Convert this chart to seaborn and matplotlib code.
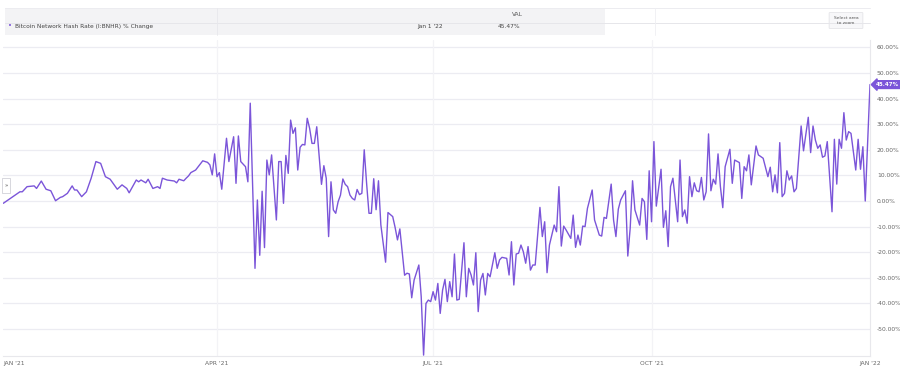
import numpy as np
import pandas as pd
import matplotlib
matplotlib.use("Agg")
import matplotlib.pyplot as plt
import matplotlib.dates as mdates
from matplotlib.patches import Rectangle, FancyBboxPatch
from matplotlib.lines import Line2D
import seaborn as sns

# ---------------- data ----------------
series_name = "Bitcoin Network Hash Rate (I:BNHR) % Change"
start_date = "2021-01-01"
day_offset = [
    0, 4, 7, 8, 10, 13, 14, 16, 18, 20, 22, 24, 25, 27, 29, 30, 31, 33, 35, 37,
    39, 41, 43, 45, 48, 50, 52, 53, 56, 57, 58, 60, 61, 63, 65, 66, 67, 69, 72, 73,
    74, 76, 77, 78, 79, 81, 84, 86, 87, 88, 89, 90, 91, 92, 94, 95, 97, 98, 99, 100,
    102, 103, 104, 106, 107, 108, 109, 110, 111, 112, 113, 115, 116, 117, 118, 119, 120, 121, 122, 123,
    124, 125, 126, 127, 128, 129, 130, 131, 132, 133, 134, 135, 136, 137, 138, 139, 140, 141, 142, 143,
    144, 145, 146, 147, 148, 149, 150, 151, 152, 153, 154, 155, 156, 157, 158, 159, 161, 162, 164, 165,
    166, 167, 169, 170, 171, 172, 173, 175, 176, 177, 178, 179, 180, 181, 182, 183, 184, 185, 186, 187,
    188, 189, 190, 191, 192, 194, 195, 196, 197, 198, 199, 200, 201, 202, 203, 204, 205, 207, 208, 209,
    210, 212, 213, 214, 215, 216, 217, 218, 219, 220, 221, 222, 223, 224, 226, 227, 228, 229, 230, 232,
    233, 234, 235, 236, 237, 239, 240, 241, 242, 243, 244, 245, 246, 248, 249, 251, 252, 253, 254, 256,
    257, 258, 259, 260, 262, 263, 264, 265, 266, 268, 269, 270, 271, 272, 273, 274, 275, 277, 278, 279,
    280, 281, 282, 284, 285, 286, 287, 288, 289, 290, 291, 292, 293, 294, 295, 296, 297, 298, 299, 300,
    301, 302, 303, 304, 306, 307, 308, 310, 311, 312, 313, 314, 315, 317, 318, 320, 322, 323, 324, 325,
    326, 327, 328, 329, 330, 331, 332, 333, 334, 336, 337, 339, 340, 341, 342, 343, 344, 345, 346, 347,
    349, 350, 351, 352, 353, 354, 355, 356, 357, 359, 360, 361, 362, 363, 365,
]
pct_change = [
    -0.9, 1.7, 3.6, 3.6, 5.6, 5.9, 4.9, 7.8, 4.6, 4.0, 0.1, 1.4, 1.7, 3.0, 5.9, 4.3, 4.3, 1.7, 3.6, 8.9,
    15.4, 14.7, 9.5, 8.5, 4.6, 6.3, 4.9, 3.2, 8.2, 7.5, 8.2, 7.1, 8.5, 4.9, 5.6, 4.9, 8.9, 8.2, 7.8, 7.1,
    8.5, 7.9, 8.9, 9.8, 11.1, 12.1, 15.7, 15.1, 14.1, 10.2, 18.4, 9.5, 11.1, 4.6, 24.5, 15.4, 25.1, 6.9, 25.4, 15.4,
    13.4, 7.5, 38.2, -26.3, 0.4, -21.2, 3.8, -18.2, 16.0, 10.2, 18.0, -7.4, 15.4, 15.4, -0.9, 17.8, 10.8, 31.6, 26.4, 28.6,
    12.1, 21.0, 22.1, 21.9, 32.3, 28.4, 22.5, 22.5, 29.0, 18.0, 6.5, 13.8, 8.9, -13.9, 7.5, -3.5, -4.8, -0.3, 2.3, 8.6,
    6.5, 5.6, 2.3, 1.0, 0.4, 4.5, 2.5, 3.0, 20.0, 6.9, -4.8, -4.8, 8.7, -3.4, 7.9, -9.3, -23.9, -4.5, -6.1, -10.3,
    -15.2, -10.9, -29.0, -28.2, -28.5, -37.8, -30.9, -25.0, -37.4, -60.2, -40.0, -38.7, -39.3, -35.4, -38.7, -32.2, -43.9, -34.8, -30.6, -39.3,
    -31.5, -37.4, -20.7, -38.7, -38.4, -16.3, -37.4, -26.3, -28.9, -32.8, -20.2, -43.2, -30.9, -28.3, -36.7, -28.3, -29.6, -20.2, -26.3, -23.0,
    -22.0, -22.4, -28.9, -15.9, -32.8, -20.7, -20.4, -17.2, -19.8, -24.3, -17.8, -27.0, -25.0, -25.0, -2.5, -13.9, -8.1, -28.0, -17.2, -9.4,
    -12.0, 5.6, -17.6, -9.8, -11.3, -14.6, -5.5, -18.1, -13.3, -17.2, -9.8, -10.0, -2.9, 4.3, -7.4, -13.3, -13.7, -6.4, -6.8, 6.6,
    -7.4, -13.9, -3.2, 0.4, 4.0, -21.5, -10.7, 7.9, -3.5, -9.4, 1.0, -0.3, -15.0, 11.8, -8.1, 23.2, -2.0, 12.4, -10.3, -3.8,
    -17.8, 5.6, 8.9, -8.1, 16.0, -6.1, -3.5, -8.7, 9.5, 1.7, 7.1, 4.0, 3.6, 9.2, 0.4, 3.6, 26.2, 4.0, 8.5, 6.6,
    18.4, 5.6, -2.6, 13.4, 20.2, 6.9, 16.0, 15.0, 1.0, 13.4, 11.8, 18.0, 6.3, 21.5, 18.0, 16.7, 9.5, 13.2, 3.6, 10.2,
    3.2, 22.8, 1.7, 3.0, 11.8, 8.2, 9.8, 3.6, 4.9, 29.3, 19.6, 32.7, 18.9, 29.3, 23.8, 20.6, 21.9, 17.1, 17.6, 23.2,
    -4.2, 24.1, 6.6, 24.1, 20.6, 34.5, 23.8, 27.1, 26.4, 12.1, 24.1, 12.4, 21.2, 0.0, 45.47,
]
y_ticks = [-50, -40, -30, -20, -10, 0, 10, 20, 30, 40, 50, 60]
x_tick_dates = ["2021-01-01", "2021-04-01", "2021-07-01", "2021-10-01", "2022-01-01"]
x_tick_labels = ["JAN '21", "APR '21", "JUL '21", "OCT '21", "JAN '22"]
last_date_label = "Jan 1 '22"
last_value = 45.47

# ---------------- styling ----------------
sns.set_theme(style="white")
plt.rcParams['font.family'] = ['DejaVu Sans']
line_color = "#7B55D9"
grid_color = "#ececf2"
text_color = "#666666"

df = pd.DataFrame({
    "date": pd.Timestamp(start_date) + pd.to_timedelta(day_offset, unit="D"),
    "value": pct_change,
})

W, H = 900, 377
fig = plt.figure(figsize=(W / 100, H / 100), dpi=100)
fig.patch.set_facecolor("white")

ax_left, ax_right = 3.3 / W, 870 / W
ax_bottom = 1 - 355.9 / H
ax_top = 1 - 39.7 / H
ax = fig.add_axes([ax_left, ax_bottom, ax_right - ax_left, ax_top - ax_bottom])

sns.lineplot(data=df, x="date", y="value", ax=ax, color=line_color, linewidth=1.0, legend=False)

ax.set_xlim(pd.Timestamp(x_tick_dates[0]), pd.Timestamp(x_tick_dates[-1]))
ax.set_ylim(-60.5, 63)

# grid
for v in y_ticks:
    ax.axhline(v, color=grid_color, lw=0.9, zorder=0)
for d in x_tick_dates[1:-1]:
    ax.axvline(pd.Timestamp(d), color="#f3f3f6", lw=0.9, zorder=0)

ax.set_yticks(y_ticks)
ax.set_yticklabels([f"{v:.2f}%" for v in y_ticks])
ax.yaxis.tick_right()
ax.tick_params(axis="y", length=0, pad=5, labelsize=4.3, labelcolor=text_color)

ax.set_xticks([pd.Timestamp(d) for d in x_tick_dates])
ax.set_xticklabels(x_tick_labels)
ax.tick_params(axis="x", length=0, pad=4, labelsize=4.3, labelcolor=text_color)
xt = ax.get_xticklabels()
xt[0].set_horizontalalignment("left")
xt[-1].set_horizontalalignment("center")
ax.set_xlabel("")
ax.set_ylabel("")

for s in ["top", "left"]:
    ax.spines[s].set_visible(False)
ax.spines["right"].set_color("#e8e8ec")
ax.spines["right"].set_linewidth(0.8)
ax.spines["bottom"].set_color("#e8e8ec")
ax.spines["bottom"].set_linewidth(0.8)

# last value marker
ax.annotate(f"{last_value:.2f}%", xy=(1.0, last_value), xycoords=("axes fraction", "data"),
            xytext=(4, 0), textcoords="offset points", ha="left", va="center",
            fontsize=4.0, color="white", fontweight="bold",
            bbox=dict(boxstyle="larrow,pad=0.25", fc=line_color, ec=line_color))

# ---------------- header (legend table) ----------------
def fx(px):
    return px / W

def fy(py):
    return 1 - py / H

fig.patches.append(Rectangle((fx(5), fy(35)), fx(600), 27 / H, transform=fig.transFigure,
                             facecolor="#f3f3f5", edgecolor="none", zorder=0))
fig.lines.append(Line2D([fx(5), fx(870)], [fy(7.5), fy(7.5)], transform=fig.transFigure,
                        color="#ececf0", lw=0.7))
fig.lines.append(Line2D([fx(5), fx(870)], [fy(22.5), fy(22.5)], transform=fig.transFigure,
                        color="#e6e6ea", lw=0.7))
fig.lines.append(Line2D([fx(217), fx(217)], [fy(7.5), fy(35)], transform=fig.transFigure,
                        color="#e8e8ec", lw=0.6))
fig.lines.append(Line2D([fx(655), fx(655)], [fy(7.5), fy(35)], transform=fig.transFigure,
                        color="#efeff2", lw=0.6))

fig.text(fx(10), fy(26.5), "•", color=line_color, fontsize=5, ha="center", va="center")
fig.text(fx(15), fy(26.5), series_name, color="#444444", fontsize=4.2, ha="left", va="center")
fig.text(fx(517), fy(15), "VAL", color="#555555", fontsize=4.2, ha="center", va="center")
fig.text(fx(443), fy(26.5), last_date_label, color="#444444", fontsize=4.2, ha="right", va="center")
fig.text(fx(520), fy(26.5), f"{last_value:.2f}%", color="#444444", fontsize=4.2, ha="right", va="center")

# select area button
fig.patches.append(FancyBboxPatch((fx(830), fy(28)), fx(32), 15 / H, boxstyle="round,pad=0.001",
                                  transform=fig.transFigure, facecolor="#f7f7f9",
                                  edgecolor="#e0e0e4", lw=0.5))
fig.text(fx(846), fy(20.5), "Select area\nto zoom", color="#555555", fontsize=3.2,
         ha="center", va="center", linespacing=1.1)

# left collapse button
fig.patches.append(Rectangle((fx(2), fy(193)), fx(8), 15 / H, transform=fig.transFigure,
                             facecolor="white", edgecolor="#c8c8d0", lw=0.5, zorder=5))
fig.text(fx(6), fy(185.5), "»", color="#555555", fontsize=4, ha="center", va="center", zorder=6)

fig.savefig("out.png", dpi=100, facecolor="white")
